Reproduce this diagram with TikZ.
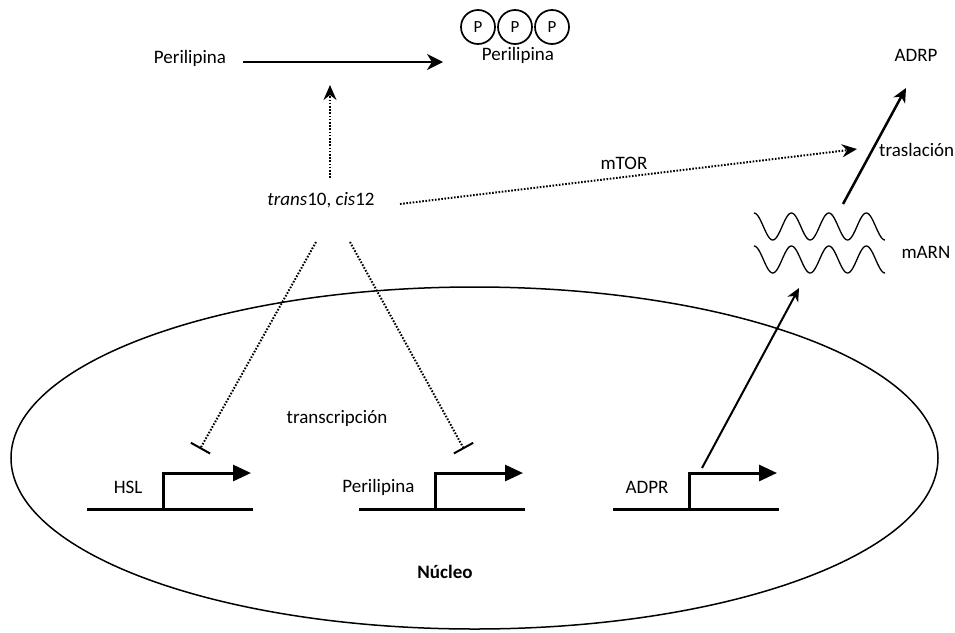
\documentclass[tikz,border=0pt]{standalone}
\usepackage{fontspec}
\setmainfont{Carlito}
\usetikzlibrary{arrows.meta}

\tikzset{
  solidarrow/.style={line width=2pt, -{Stealth[length=16pt,width=16pt,inset=5pt]}},
  dotarrow/.style={line width=2pt, dash pattern=on 1.6pt off 1.6pt, -{Stealth[length=15pt,width=13pt,inset=5pt]}},
  dotbar/.style={line width=2pt, dash pattern=on 1.6pt off 1.6pt, -{Bar[width=22pt,line width=2pt]}},
  gene/.style={line width=3pt},
  phospho/.style={circle, draw, line width=1.7pt, minimum size=34pt, inner sep=0pt, font=\fontsize{17}{17}\selectfont},
  wave/.style={line width=1.3pt},
}

\begin{document}
\begin{tikzpicture}[x=1pt, y=-1pt, font=\fontsize{19}{22}\selectfont]
  \useasboundingbox (0,0) rectangle (955,632);

  % citoplasma
  \node (perA) at (190,58) {Perilipina};
  \node (perB) at (518,55) {Perilipina};
  \foreach \x/\n in {478/p1, 515/p2, 552/p3}{
    \node[phospho] (\n) at (\x,27) {P};
  }
  \coordinate (phosA) at (243,62);
  \coordinate (phosB) at (443,62);
  \draw[solidarrow] (phosA) -- (phosB);

  \node (cla) at (321,200) {\textit{trans}10, \textit{cis}12};
  \coordinate (claUp) at (330,178);
  \coordinate (claEast) at (400,204);
  \coordinate (claL) at (316,242);
  \coordinate (claR) at (350,242);
  \coordinate (phosHit) at (330,85);
  \draw[dotarrow] (claUp) -- (phosHit);

  \node (adrp) at (916,55) {ADRP};
  \coordinate (tlStart) at (843,204);
  \coordinate (tlEnd) at (906,88);
  \coordinate (mtorEnd) at (857,149);
  \draw[dotarrow] (claEast) -- node[pos=0.49, above=3pt] (mtor) {mTOR} (mtorEnd);
  \draw[line width=2.5pt, -{Stealth[length=14pt,width=13pt,inset=4pt]}] (tlStart) -- node[pos=0.47, right=2pt] (trasl) {traslaci\'on} (tlEnd);

  % mARN
  \foreach \yc in {226.5, 259.5}{
    \draw[wave, domain=0:131, samples=120, smooth] plot ({754+\x}, {\yc-13.5*cos(\x/37.43*360)});
  }
  \node[anchor=west] (marn) at (898,252) {mARN};

  % nucleo
  \draw[line width=1.5pt] (474.5,458) ellipse [x radius=463.5, y radius=171];
  \node (nuc) at (445,572) {\bfseries N\'ucleo};
  \node (trx) at (337,418) {transcripci\'on};

  \foreach \x/\n/\lbl in {163/hsl/HSL, 435/peri/Perilipina, 689/adpr/ADPR}{
    \coordinate (\n) at (\x,509);
    \draw[gene] (\n) ++(-76,0) -- ++(166,0);
    \draw[gene, -{Triangle[length=18pt,width=16pt]}] (\n) -- ++(0,-36) -- ++(88,0);
    \node[anchor=east] (\n-lbl) at (\x-17,487) {\lbl};
  }

  \coordinate (hslBlock) at (200,449);
  \coordinate (periBlock) at (464,449);
  \draw[dotbar] (claL) -- (hslBlock);
  \draw[dotbar] (claR) -- (periBlock);

  \coordinate (adprOut) at (702,468);
  \coordinate (mrnaIn) at (799,288);
  \draw[line width=2pt, -{Stealth[length=13pt,width=12pt,inset=4pt]}] (adprOut) -- (mrnaIn);
\end{tikzpicture}
\end{document}
